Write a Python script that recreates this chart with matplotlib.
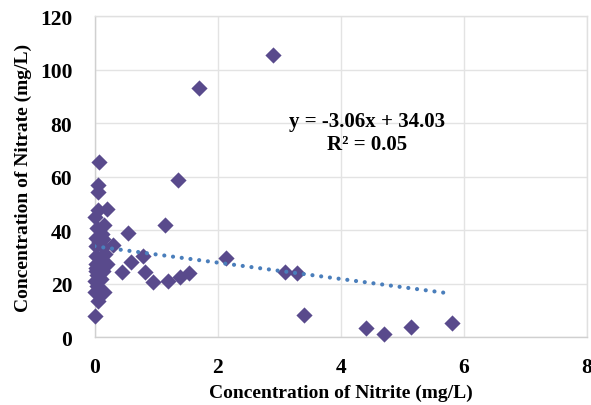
import matplotlib
matplotlib.use("Agg")
import matplotlib.pyplot as plt
import numpy as np

nitrite = [2.90, 1.70, 1.35, 1.14, 2.14, 0.95, 1.20, 1.39, 1.54, 3.09, 3.29, 3.40, 4.41, 4.71, 5.15, 5.81,
           0.08, 0.06, 0.06, 0.21, 0.06, 0.01, 0.16, 0.04, 0.55, 0.03, 0.14, 0.30, 0.03, 0.14, 0.79, 0.17,
           0.03, 0.59, 0.20, 0.03, 0.02, 0.14, 0.44, 0.82, 0.04, 0.10, 0.00, 0.04, 0.00, 0.16, 0.05, 0.00,
           0.08, 0.10, 0.02, 0.12]
nitrate = [105.6, 93.3, 58.8, 42.0, 29.5, 20.8, 21.1, 22.7, 23.9, 24.5, 23.9, 8.3, 3.4, 1.2, 3.9, 5.2,
           65.7, 57.0, 54.2, 48.0, 47.7, 45.1, 42.1, 40.8, 38.9, 37.1, 36.8, 34.5, 34.3, 33.6, 30.5, 31.1,
           30.5, 28.0, 27.4, 27.4, 24.9, 24.9, 24.5, 24.3, 23.3, 21.8, 21.2, 19.3, 16.8, 16.8, 13.7, 8.1,
           35.5, 29.0, 26.0, 38.5]

slope, intercept = -3.06, 34.03
trend_x = [0.0, 5.68]

fig = plt.figure(figsize=(5.91, 4.06), dpi=100)
ax = fig.add_axes([0.160, 0.167, 0.833, 0.790])

font = {'family': 'Liberation Serif', 'weight': 'bold'}

ax.scatter(nitrite, nitrate, marker='D', s=68, color='#594A8C', zorder=3, linewidths=0, clip_on=False)
tx = np.array(trend_x)
ax.plot(tx, slope * tx + intercept, linestyle=(0, (0.01, 2.1)), color='#4A7EBB',
        linewidth=3, dash_capstyle='round', zorder=4)

ax.set_xlim(0, 8)
ax.set_ylim(0, 120)
ax.set_xticks([0, 2, 4, 6, 8])
ax.set_yticks(range(0, 121, 20))
ax.grid(True, color='#E3E3E3', linewidth=1)
ax.set_axisbelow(True)
for s in ax.spines.values():
    s.set_color('#E0E0E0')
    s.set_linewidth(1)
ax.spines['bottom'].set_color('#D0D0D0')
ax.spines['left'].set_color('#D0D0D0')
ax.tick_params(axis='y', length=0, pad=16)
ax.tick_params(axis='x', length=0, pad=14)
for lab in ax.get_xticklabels() + ax.get_yticklabels():
    lab.set_fontfamily('Liberation Serif')
    lab.set_fontweight('bold')
    lab.set_fontsize(15.5)

ax.set_xlabel('Concentration of Nitrite (mg/L)', fontdict=font, fontsize=14, labelpad=5)
ax.set_ylabel('Concentration of Nitrate (mg/L)', fontdict=font, fontsize=14, labelpad=6)

ax.text(4.43, 76.6, 'y = -3.06x + 34.03\nR² = 0.05', ha='center', va='center',
        fontfamily='Liberation Serif', fontweight='bold', fontsize=15, linespacing=1.15)

fig.savefig('out.png', dpi=100)
